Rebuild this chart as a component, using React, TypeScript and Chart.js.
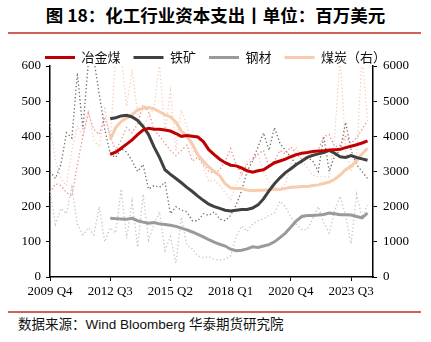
import React, { useEffect, useRef } from 'react';
import { Chart, registerables } from 'chart.js';

Chart.register(...registerables);

const quarters = [
  '2009 Q4',
  '2010 Q1', '2010 Q2', '2010 Q3', '2010 Q4',
  '2011 Q1', '2011 Q2', '2011 Q3', '2011 Q4',
  '2012 Q1', '2012 Q2', '2012 Q3', '2012 Q4',
  '2013 Q1', '2013 Q2', '2013 Q3', '2013 Q4',
  '2014 Q1', '2014 Q2', '2014 Q3', '2014 Q4',
  '2015 Q1', '2015 Q2', '2015 Q3', '2015 Q4',
  '2016 Q1', '2016 Q2', '2016 Q3', '2016 Q4',
  '2017 Q1', '2017 Q2', '2017 Q3', '2017 Q4',
  '2018 Q1', '2018 Q2', '2018 Q3', '2018 Q4',
  '2019 Q1', '2019 Q2', '2019 Q3', '2019 Q4',
  '2020 Q1', '2020 Q2', '2020 Q3', '2020 Q4',
  '2021 Q1', '2021 Q2', '2021 Q3', '2021 Q4',
  '2022 Q1', '2022 Q2', '2022 Q3', '2022 Q4',
  '2023 Q1', '2023 Q2', '2023 Q3', '2023 Q4',
  '2024 Q1', '2024 Q2', '2024 Q3',
];

const N = null;

// Smoothed series (solid lines)
const cokingCoalMA = [
  N, N, N, N, N, N, N, N, N, N, N,
  349, 355, 366, 378, 390, 405, 418, 423, 420, 420,
  418, 415, 408, 400, 402, 400, 398, 385, 362, 348,
  335, 325, 318, 316, 310, 302, 298, 302, 305, 315,
  325, 330, 335, 342, 348, 352, 354, 357, 358, 359,
  361, 362, 363, 368, 372, 376, 381, 387, N,
];
const ironOreMA = [
  N, N, N, N, N, N, N, N, N, N, N,
  450, 453, 458, 460, 455, 445, 428, 405, 370, 340,
  305, 292, 280, 268, 255, 243, 230, 218, 207, 200,
  195, 190, 188, 190, 192, 192, 196, 205, 222, 245,
  265, 282, 297, 308, 320, 330, 340, 346, 350, 354,
  360, 352, 342, 340, 345, 340, 336, 332, N,
];
const steelMA = [
  N, N, N, N, N, N, N, N, N, N, N,
  167, 166, 165, 164, 167, 160, 156, 153, 155, 151,
  149, 147, 144, 139, 134, 128, 121, 114, 106, 99,
  93, 88, 79, 75, 76, 80, 86, 84, 88, 92,
  100, 112, 125, 142, 160, 172, 175, 175, 176, 178,
  182, 180, 177, 177, 176, 172, 168, 182, N,
];
const coalMA = [
  N, N, N, N, N, N, N, N, N, N, N,
  3900, 4250, 4420, 4520, 4620, 4750, 4800, 4820, 4780, 4700,
  4620, 4550, 4400, 4150, 4000, 3780, 3480, 3300, 3130, 3000,
  2880, 2650, 2530, 2520, 2520, 2470, 2450, 2470, 2470, 2480,
  2500, 2490, 2520, 2550, 2560, 2570, 2570, 2600, 2620, 2660,
  2700, 2780, 2900, 3050, 3150, 3300, 3500, 3660, N,
];

// Raw quarterly series (dotted lines)
const cokingCoalRaw = [
  240, 265, 260, 240, 230, 320, 400, 465, 420, 405,
  455, 400, 360, 390, 425, 410, 435, 490, 470, 420,
  400, 380, 360, 345, 360, 375, 330, 340, 320, 300,
  295, 305, 330, 365, 320, 290, 320, 332, 350, 360,
  315, 330, 360, 350, 370, 350, 335, 342, 350, 360,
  400, 405, 370, 375, 400, 380, 395, 420, 445, N,
];
const ironOreRaw = [
  300, 280, 320, 410, 395, 580, 420, 610, 620, 520,
  420, 350, 340, 365, 355, 330, 300, 320, 250, 260,
  255, 270, 180, 200, 190, 185, 160, 160, 180, 175,
  185, 165, 160, 175, 205, 245, 300, 330, 370, 410,
  360, 425, 380, 360, 340, 320, 325, 340, 330, 300,
  400, 300, 345, 360, 440, 360, 320, 300, 280, N,
];
const steelRaw = [
  245, 150, 195, 180, 255, 150, 120, 140, 120, 200,
  100, 140, 125, 250, 110, 215, 85, 235, 105, 150,
  185, 75, 115, 40, 170, 90, 80, 60, 55, 58,
  50, 48, 50, 60, 115, 145, 130, 150, 160, 165,
  175, 182, 215, 200, 170, 150, 135, 135, 165, 200,
  155, 125, 190, 230, 175, 95, 235, 170, 205, N,
];
const coalRaw = [
  4400, 3300, 2800, 2600, 3600, 4300, 4000, 4750, 3900, 3700,
  4850, 3900, 6300, 6300, 4850, 5900, 4650, 4300, 4550, 4800,
  6100, 4100, 5300, 3600, 4750, 4300, 3600, 3450, 3150, 2700,
  2750, 2600, 2400, 2200, 2650, 2900, 3300, 3400, 3500, 3000,
  2700, 2450, 2500, 2650, 3200, 3700, 3300, 3100, 2900, 2850,
  2850, 2850, 4000, 6300, 3600, 3000, 3400, 6300, 4500, N,
];

const leftTicks = { min: 0, max: 600, step: 100 };
const rightTicks = { min: 0, max: 6000, step: 1000 };

const SERIF = '"Liberation Serif", "Times New Roman", Times, serif';

export default function App() {
  const ref = useRef<HTMLCanvasElement>(null);

  useEffect(() => {
    const canvas = ref.current;
    if (!canvas) return;

    const legendTighten = {
      id: 'legendTighten',
      beforeInit(chart: any) {
        const lg = chart.legend;
        if (!lg) return;
        const orig = lg.fit;
        lg.fit = function () {
          orig.call(this);
          this.height -= 8;
        };
      },
    };

    const solid = (label: string, data: any[], color: string, axis: string) => ({
      label,
      data,
      borderColor: color,
      backgroundColor: color,
      borderWidth: 3,
      pointRadius: 0,
      tension: 0,
      yAxisID: axis,
    });
    const dotted = (label: string, data: any[], color: string, axis: string) => ({
      label,
      data,
      borderColor: color,
      backgroundColor: color,
      borderWidth: 1.3,
      borderDash: [1.3, 2.4],
      pointRadius: 0,
      tension: 0,
      yAxisID: axis,
    });

    const chart = new Chart(canvas, {
      type: 'line',
      data: {
        labels: quarters,
        datasets: [
          solid('冶金煤', cokingCoalMA, '#C00000', 'y'),
          solid('铁矿', ironOreMA, '#404040', 'y'),
          solid('钢材', steelMA, '#9A9A9A', 'y'),
          solid('煤炭（右）', coalMA, '#F8CBAD', 'y1'),
          dotted('冶金煤季度', cokingCoalRaw, '#EC8C8C', 'y'),
          dotted('铁矿季度', ironOreRaw, '#6A6A6A', 'y'),
          dotted('钢材季度', steelRaw, '#C4C4C4', 'y'),
          dotted('煤炭季度', coalRaw, '#F9CDB4', 'y1'),
        ] as any,
      },
      options: {
        responsive: false,
        devicePixelRatio: 1,
        animation: false,
        events: [],
        layout: { padding: { top: 0, left: 0, right: 0, bottom: 0 } },
        plugins: {
          tooltip: { enabled: false },
          title: { display: false },
          legend: {
            display: true,
            position: 'top',
            labels: {
              usePointStyle: true,
              pointStyle: 'line',
              pointStyleWidth: 30,
              boxHeight: 13,
              padding: 13,
              color: '#111',
              font: { family: '"Noto Sans CJK SC", sans-serif', size: 13 },
              filter: (item: any) => item.datasetIndex < 4,
            },
          },
        },
        scales: {
          x: {
            type: 'category',
            offset: false,
            grid: {
              display: true,
              drawOnChartArea: false,
              drawTicks: true,
              tickLength: 4,
              color: '#000',
              lineWidth: 1,
            },
            border: { display: true, color: '#000', width: 1.5 },
            ticks: {
              autoSkip: false,
              maxRotation: 0,
              minRotation: 0,
              padding: 3,
              color: '#000',
              font: { family: SERIF, size: 13 },
              callback: function (this: any, val: any, index: number) {
                return index % 11 === 0 ? this.getLabelForValue(val) : null;
              },
            },
            afterFit: (s: any) => {
              s.height = 28;
            },
          },
          y: {
            position: 'left',
            min: leftTicks.min,
            max: leftTicks.max,
            grid: {
              display: true,
              drawOnChartArea: false,
              tickLength: 4,
              color: '#000',
            },
            border: { display: true, color: '#000', width: 1.5 },
            ticks: {
              stepSize: leftTicks.step,
              padding: 5,
              color: '#000',
              font: { family: SERIF, size: 13 },
              callback: (v: any) => String(v),
            },
            afterFit: (s: any) => {
              s.width = 50;
            },
          },
          y1: {
            position: 'right',
            min: rightTicks.min,
            max: rightTicks.max,
            grid: {
              display: true,
              drawOnChartArea: false,
              tickLength: 4,
              color: '#000',
            },
            border: { display: true, color: '#000', width: 1.5 },
            ticks: {
              stepSize: rightTicks.step,
              padding: 6,
              color: '#000',
              font: { family: SERIF, size: 13 },
              callback: (v: any) => String(v),
            },
            afterFit: (s: any) => {
              s.width = 58;
            },
          },
        },
      } as any,
      plugins: [legendTighten],
    });

    return () => chart.destroy();
  }, []);

  return (
    <div
      style={{
        position: 'absolute',
        left: 0,
        top: 0,
        width: 431,
        height: 342,
        background: '#fff',
        overflow: 'hidden',
      }}
    >
      <div
        style={{
          position: 'absolute',
          left: 0,
          top: 4,
          width: 431,
          textAlign: 'center',
          fontFamily: '"Noto Sans CJK SC", sans-serif',
          fontWeight: 'bold',
          fontSize: 17.5,
          lineHeight: '22px',
          color: '#000',
          whiteSpace: 'nowrap',
        }}
      >
        图 18：化工行业资本支出丨单位：百万美元
      </div>
      <div
        style={{
          position: 'absolute',
          left: 8,
          top: 32,
          width: 413,
          height: 1.5,
          background: '#D0605C',
        }}
      />
      <canvas
        ref={ref}
        width={431}
        height={267}
        style={{ position: 'absolute', left: 0, top: 38, width: 431, height: 267 }}
      />
      <div
        style={{
          position: 'absolute',
          left: 8,
          top: 311,
          width: 413,
          height: 1.5,
          background: '#D0605C',
        }}
      />
      <div
        style={{
          position: 'absolute',
          left: 18,
          top: 316,
          fontFamily: '"Liberation Sans", "Noto Sans CJK SC", sans-serif',
          fontSize: 13.5,
          lineHeight: '18px',
          color: '#111',
          whiteSpace: 'nowrap',
        }}
      >
        数据来源：Wind Bloomberg 华泰期货研究院
      </div>
    </div>
  );
}
